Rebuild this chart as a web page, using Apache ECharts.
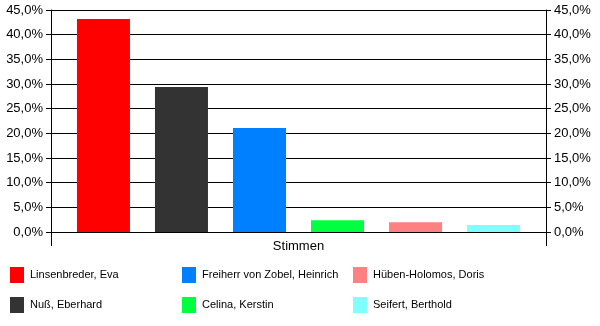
<!DOCTYPE html>
<html><head><meta charset="utf-8">
<script src="https://cdn.jsdelivr.net/npm/echarts@6/dist/echarts.min.js"></script>
<style>html,body{margin:0;padding:0;background:#fff}#c{width:600px;height:326px}</style>
</head><body><div id="c"></div>
<script>
const categories = ['Stimmen'];
const names = ['Linsenbreder, Eva','Nuß, Eberhard','Freiherr von Zobel, Heinrich','Celina, Kerstin','Hüben-Holomos, Doris','Seifert, Berthold'];
const values = [43.2, 29.4, 21.1, 2.4, 2.0, 1.4];
const colors = ['#FF0000','#333333','#0080FF','#00FF40','#FF8080','#80FFFF'];
const yTicks = {min: 0, max: 45, interval: 5};

const fmt = v => v.toFixed(1).replace('.', ',') + '%';
const font = 'Liberation Sans, Arial, sans-serif';
const yAxisBase = (pos) => ({
  type: 'value', position: pos, min: yTicks.min, max: yTicks.max, interval: yTicks.interval,
  axisLine: {show: true, lineStyle: {color: '#000', width: 1}},
  axisTick: {show: true, length: 5, lineStyle: {color: '#000'}},
  axisLabel: {formatter: fmt, color: '#000', fontFamily: font, fontSize: 13, margin: 8},
  splitLine: {show: pos === 'left', lineStyle: {color: '#000', width: 1}}
});
const series = names.map((n, i) => ({
  name: n, type: 'bar', data: [values[i]], barWidth: 53, barGap: '47.2%',
  itemStyle: {color: colors[i]}, animation: false
}));
const legendX = [10, 182, 353];
const chart = echarts.init(document.getElementById('c'), null, {renderer: 'canvas'});
chart.setOption({
  animation: false,
  grid: {left: 51, right: 54, top: 10, bottom: 94, containLabel: false},
  xAxis: {
    type: 'category', data: categories,
    axisLine: {show: true, lineStyle: {color: '#000'}},
    axisTick: {show: true, length: 14, alignWithLabel: false, lineStyle: {color: '#000'}},
    axisLabel: {color: '#000', fontFamily: font, fontSize: 13, margin: 8}
  },
  yAxis: [yAxisBase('left'), yAxisBase('right')],
  legend: [[0,1],[2,3],[4,5]].map((idx, k) => ({
    data: idx.map(i => names[i]), orient: 'vertical', left: legendX[k], top: 267,
    itemWidth: 14, itemHeight: 16, itemGap: 14, icon: 'rect', padding: 0,
    selectedMode: false,
    textStyle: {color: '#000', fontFamily: font, fontSize: 11, padding: [0,0,0,1]}
  })),
  series: series
});
</script></body></html>
